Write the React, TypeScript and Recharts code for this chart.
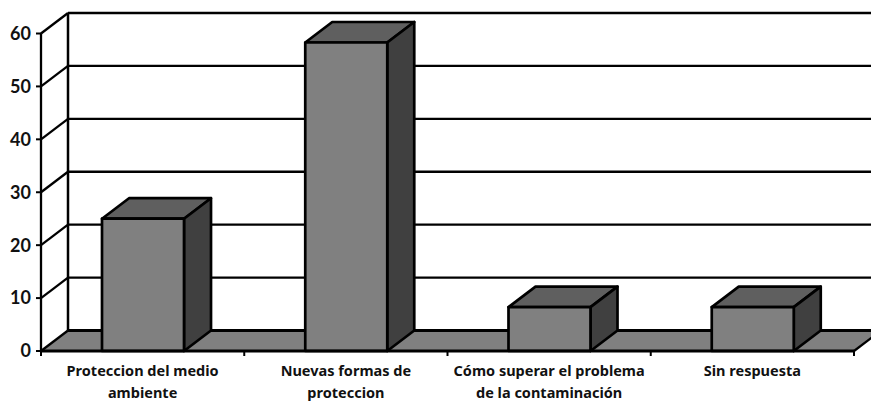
import { Bar, BarChart, CartesianGrid, XAxis, YAxis } from "recharts";

const categories = [
  "Proteccion del medio\nambiente",
  "Nuevas formas de\nproteccion",
  "Cómo superar el problema\nde la contaminación",
  "Sin respuesta",
];
const values = [25, 58.3, 8.3, 8.3];
const yTicks = [0, 10, 20, 30, 40, 50, 60];

const data = categories.map((name, i) => ({ name, value: values[i] }));

const DX = 27;
const DY = 20.5;
const FONT = "Lato, sans-serif";
const LABEL_FONT = "'Noto Sans', sans-serif";
const LINE = "#000";

function GridLine(props: any) {
  const { x1, x2, y1 } = props;
  const top = props.y;
  const bottom = props.y + props.height;
  const isFloor = Math.abs(y1 - bottom) < 1;
  if (isFloor) {
    return (
      <g>
        <polygon points={`${x1},${y1} ${x1 + DX},${y1 - DY} ${x2 + DX},${y1 - DY} ${x2},${y1}`} fill="#808080" stroke="none" />
        <line x1={x1 + DX} y1={top - DY} x2={x1 + DX} y2={y1 - DY} stroke={LINE} strokeWidth={2.5} />
        <line x1={x1} y1={y1} x2={x1 + DX} y2={y1 - DY} stroke={LINE} strokeWidth={2.3} />
        <line x1={x1 + DX} y1={y1 - DY} x2={x2 + DX} y2={y1 - DY} stroke={LINE} strokeWidth={3} />
        <line x1={x2} y1={y1} x2={x2 + DX} y2={y1 - DY} stroke={LINE} strokeWidth={2.3} />
      </g>
    );
  }
  return (
    <g>
      <line x1={x1} y1={y1} x2={x1 + DX} y2={y1 - DY} stroke={LINE} strokeWidth={2.3} />
      <line x1={x1 + DX} y1={y1 - DY} x2={x2 + DX} y2={y1 - DY} stroke={LINE} strokeWidth={2.3} />
    </g>
  );
}

function Box3D(props: any) {
  const { x, y, width, height } = props;
  const r = x + width;
  const b = y + height;
  return (
    <g stroke={LINE} strokeWidth={2.7} strokeLinejoin="round">
      <polygon points={`${x},${y} ${x + DX},${y - DY} ${r + DX},${y - DY} ${r},${y}`} fill="#5f5f5f" />
      <polygon points={`${r},${y} ${r + DX},${y - DY} ${r + DX},${b - DY} ${r},${b}`} fill="#404040" />
      <rect x={x} y={y} width={width} height={height} fill="#808080" />
    </g>
  );
}

function XTick(props: any) {
  const { x, y, payload, index, width, visibleTicksCount } = props;
  const step = width / visibleTicksCount;
  const lines = String(payload.value).split("\n");
  return (
    <g>
      <line x1={x - step / 2} y1={y - 8} x2={x - step / 2} y2={y - 3} stroke={LINE} strokeWidth={2} />
      {index === visibleTicksCount - 1 && (
        <line x1={x + step / 2} y1={y - 8} x2={x + step / 2} y2={y - 3} stroke={LINE} strokeWidth={2} />
      )}
      <text x={x} textAnchor="middle" fontFamily={LABEL_FONT} fontWeight={700} fontSize={14.5} fill="#111">
        {lines.map((t, i) => (
          <tspan key={t} x={x} y={y + 17 + i * 22}>
            {t}
          </tspan>
        ))}
      </text>
    </g>
  );
}

export default function App() {
  return (
    <div style={{ position: "absolute", left: 0, top: 0, width: 871, height: 402, background: "#fff" }}>
      <BarChart width={871} height={402} data={data} barSize={82} margin={{ top: 33.5, right: 17, bottom: 0, left: 0 }}>
        <CartesianGrid vertical={false} horizontal={GridLine} />
        <XAxis
          dataKey="name"
          interval={0}
          height={51}
          tick={XTick}
          tickLine={false}
          axisLine={{ stroke: LINE, strokeWidth: 3 }}
        />
        <YAxis
          width={41}
          domain={[0, 60]}
          ticks={yTicks}
          interval={0}
          tickSize={5}
          tickMargin={5}
          tick={{ fontFamily: FONT, fontWeight: 700, fontSize: 18, fill: "#111" }}
          tickLine={{ stroke: LINE, strokeWidth: 2 }}
          axisLine={{ stroke: LINE, strokeWidth: 2.3 }}
        />
        <Bar dataKey="value" shape={Box3D} isAnimationActive={false} />
      </BarChart>
    </div>
  );
}
